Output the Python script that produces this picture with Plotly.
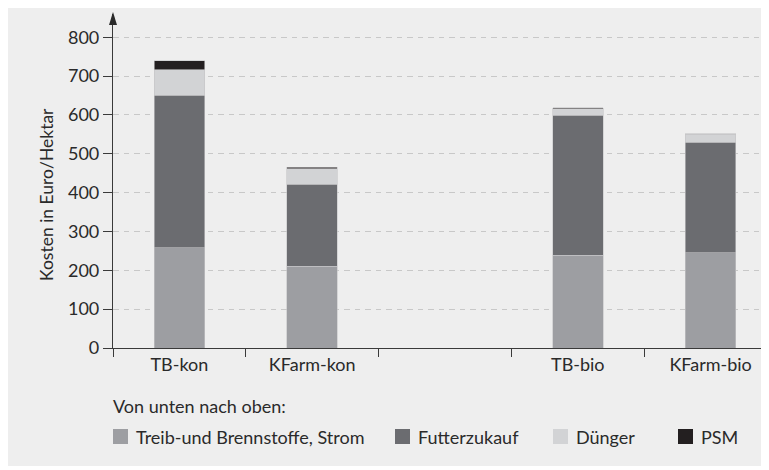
import plotly.graph_objects as go

# ---- data ----
categories = ["TB-kon", "KFarm-kon", " ", "TB-bio", "KFarm-bio"]
series_names = ["Treib-und Brennstoffe, Strom", "Futterzukauf", "Dünger", "PSM"]
treib = [258, 211, None, 239, 245]
futter = [393, 211, None, 360, 285]
duenger = [65, 40, None, 17, 20]
psm = [23, 4, None, 2, 2]
y_ticks = [0, 100, 200, 300, 400, 500, 600, 700, 800]
y_title = "Kosten in Euro/Hektar"
legend_title = "Von unten nach oben:"

colors = ["#9d9ea2", "#6b6c70", "#d2d3d5", "#231f20"]
FONT = "Lato"
TXT = "#2a2a2a"

# layout geometry (figure pixels; page body adds an 8px offset on screen)
OFF = 8
W, H = 769, 470
L, R, T, B = 105, 0, 6, 130
PW, PH = W - L - R, H - T - B


def px(sx):
    """screen x -> paper x"""
    return (sx - OFF - L) / PW


def py(sy):
    """screen y -> paper y"""
    return (H - B - (sy - OFF)) / PH


fig = go.Figure()
for name, vals, col in zip(series_names, [treib, futter, duenger, psm], colors):
    fig.add_trace(go.Bar(
        x=categories, y=vals, name=name, width=0.38,
        marker=dict(color=col, line=dict(color="#c4c4c6", width=0.6)),
        showlegend=False,
    ))

shapes = [
    # white strip at the bottom of the grey panel
    dict(type="rect", xref="paper", yref="paper", x0=px(0), x1=px(800), y0=py(490), y1=py(466),
         fillcolor="white", line=dict(width=0), layer="below"),
    # arrow head on y axis
    dict(type="path", xref="paper", yref="paper",
         path=f"M {px(109)},{py(25)} L {px(113)},{py(12)} L {px(117)},{py(25)} Z",
         fillcolor="#2a2a2a", line=dict(width=0), layer="above"),
]

annotations = [
    dict(text=y_title, xref="paper", yref="paper", x=px(46), y=py(195), textangle=-90,
         showarrow=False, xanchor="center", yanchor="middle",
         font=dict(family=FONT, size=17.5, color=TXT)),
    dict(text=legend_title, xref="paper", yref="paper", x=px(111), y=py(406),
         showarrow=False, xanchor="left", yanchor="middle",
         font=dict(family=FONT, size=18, color=TXT)),
]

legend_x = [113, 395, 553, 678]
for name, col, lx in zip(series_names, colors, legend_x):
    shapes.append(dict(type="rect", xref="paper", yref="paper", x0=px(lx), x1=px(lx + 15),
                       y0=py(444), y1=py(429), fillcolor=col, line=dict(width=0)))
    annotations.append(dict(text=name, xref="paper", yref="paper", x=px(lx + 21), y=py(437),
                            showarrow=False, xanchor="left", yanchor="middle",
                            font=dict(family=FONT, size=18, color=TXT)))

fig.update_layout(
    width=W, height=H, autosize=False,
    margin=dict(l=L, r=R, t=T, b=B, pad=0),
    paper_bgcolor="#eeeeee", plot_bgcolor="rgba(0,0,0,0)",
    barmode="stack",
    font=dict(family=FONT, size=18, color=TXT),
    shapes=shapes, annotations=annotations,
    showlegend=False,
)
fig.update_xaxes(
    type="category", categoryorder="array", categoryarray=categories,
    range=[-0.5, 4.5], tickson="boundaries", ticks="outside", ticklen=8,
    tickcolor="#3a3a3a", tickwidth=1.2, showline=True, linecolor="#3a3a3a",
    linewidth=1.2, showgrid=False, zeroline=False,
    tickfont=dict(family=FONT, size=18, color=TXT),
)
fig.update_yaxes(
    range=[0, 860], tickvals=y_ticks, ticks="outside", ticklen=9,
    tickcolor="#3a3a3a", tickwidth=1.2, showline=True, linecolor="#3a3a3a",
    linewidth=1.2, showgrid=True, gridcolor="#c8c8c8", gridwidth=1,
    griddash="5.5px,5px", zeroline=False,
    tickfont=dict(family=FONT, size=18, color=TXT),
)

fig.write_html("out.html")
